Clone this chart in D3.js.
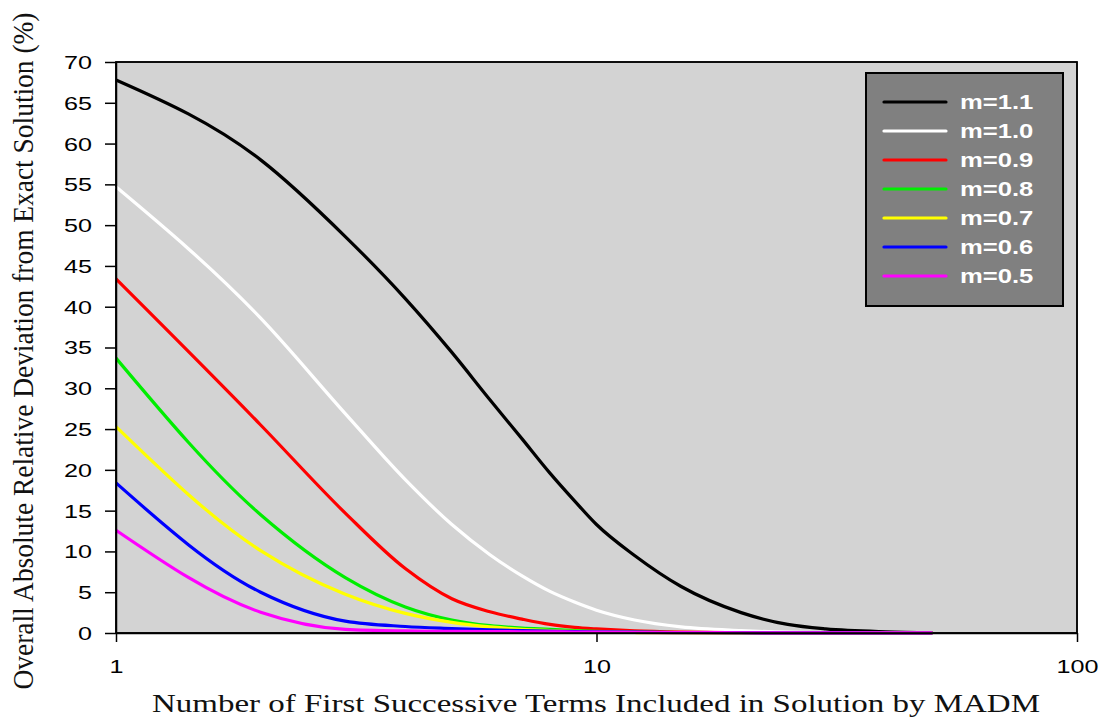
<!DOCTYPE html>
<html><head><meta charset="utf-8">
<script src="https://cdn.jsdelivr.net/npm/d3@7"></script>
<style>html,body{margin:0;padding:0;background:#fff}</style>
</head><body>
<svg id="c" width="1102" height="721"></svg>
<script>
const nTerms = [1,2,3,4,5,6,7,8,9,10,12,15,20,25,30,40,50];
const m11 = [67.8,58.0,48.6,41.0,34.4,28.6,23.8,19.6,16.2,13.3,9.5,5.7,2.5,1.05,0.5,0.15,0.05];
const m10 = [54.7,38.6,26.9,18.8,13.3,9.6,7.0,5.1,3.8,2.8,1.6,0.75,0.3,0.1,0.05,0,0];
const m09 = [43.4,25.5,14.7,7.9,4.2,2.6,1.7,1.05,0.7,0.5,0.25,0.1,0.03,0,0,0,0];
const m08 = [33.7,14.5,6.8,3.2,1.6,0.9,0.6,0.45,0.3,0.2,0.1,0.05,0,0,0,0,0];
const m07 = [25.3,10.1,4.75,2.4,1.3,0.75,0.45,0.3,0.2,0.12,0.06,0.03,0,0,0,0,0];
const m06 = [18.4,5.0,1.45,0.8,0.55,0.38,0.28,0.22,0.18,0.15,0.1,0.06,0.03,0.02,0.01,0,0];
const m05 = [12.6,2.55,0.45,0.25,0.2,0.17,0.15,0.13,0.12,0.1,0.08,0.05,0.03,0.02,0.02,0.02,0.02];
const seriesNames = ["m=1.1","m=1.0","m=0.9","m=0.8","m=0.7","m=0.6","m=0.5"];
const seriesValues = [m11,m10,m09,m08,m07,m06,m05];
const seriesColors = ["#000000","#ffffff","#ff0000","#00ee00","#ffff00","#0000ff","#ff00ff"];
const yTicks = [0,5,10,15,20,25,30,35,40,45,50,55,60,65,70];
const xTicks = [1,10,100];
const xTitle = "Number of First Successive Terms Included in Solution by MADM";
const yTitle = "Overall Absolute Relative Deviation from Exact Solution (%)";

const svg = d3.select("#c");
const L=116,R=1077,T=62,B=633;
const x = d3.scaleLog().domain([1,100]).range([L,R]);
const y = d3.scaleLinear().domain([0,70]).range([B,T]);

svg.append("rect").attr("x",L).attr("y",T).attr("width",R-L).attr("height",B-T)
  .attr("fill","#d3d3d3").attr("stroke","#000").attr("stroke-width",1.5);

const line = d3.line().x(d=>x(d.n)).y(d=>y(d.v)).curve(d3.curveMonotoneX);
seriesValues.forEach((vals,i)=>{
  const pts = nTerms.map((n,j)=>({n:n,v:vals[j]}));
  svg.append("path").datum(pts).attr("d",line).attr("fill","none")
    .attr("stroke",seriesColors[i]).attr("stroke-width",3.2).attr("stroke-linejoin","round");
});

const fontSans = "'Liberation Sans', Arial, sans-serif";
const fontSerif = "'Liberation Serif', 'Times New Roman', serif";

const gy = svg.append("g").attr("transform",`translate(${L},0)`)
  .call(d3.axisLeft(y).tickValues(yTicks).tickSize(11).tickSizeOuter(0).tickFormat(d3.format("d")));
gy.select(".domain").attr("stroke","#000").attr("stroke-width",1.5);
gy.selectAll(".tick line").attr("stroke","#000").attr("stroke-width",1.5);
gy.selectAll(".tick text").attr("x",0).attr("dy","0.36em")
  .attr("transform","translate(-24,0) scale(1.4,1)")
  .style("font-family",fontSans).style("font-size","18px").attr("fill","#000");

const gx = svg.append("g").attr("transform",`translate(0,${B})`)
  .call(d3.axisBottom(x).tickValues(xTicks).tickSize(9).tickSizeOuter(0).tickFormat(d3.format("d")));
gx.select(".domain").attr("stroke","#000").attr("stroke-width",1.5);
gx.selectAll(".tick line").attr("stroke","#000").attr("stroke-width",1.5);
gx.selectAll(".tick text").attr("y",0).attr("dy",0)
  .attr("transform","translate(0,40) scale(1.4,1)")
  .style("font-family",fontSans).style("font-size","18px").attr("fill","#000");

svg.append("rect").attr("x",L).attr("y",T).attr("width",R-L).attr("height",B-T)
  .attr("fill","none").attr("stroke","#000").attr("stroke-width",1.5);

svg.append("text").attr("x",152).attr("y",712).attr("textLength",888).attr("lengthAdjust","spacingAndGlyphs")
  .style("font-family",fontSerif).style("font-size","26px").attr("fill","#111").text(xTitle);

svg.append("text").attr("transform","translate(33,351) scale(1.2,1) rotate(-90)")
  .attr("text-anchor","middle").attr("textLength",677).attr("lengthAdjust","spacingAndGlyphs")
  .style("font-family",fontSerif).style("font-size","25px").attr("fill","#111").text(yTitle);

const lg = svg.append("g");
lg.append("rect").attr("x",866).attr("y",73).attr("width",197).attr("height",233)
  .attr("fill","#808080").attr("stroke","#000").attr("stroke-width",2);
seriesNames.forEach((name,i)=>{
  const yy = 102 + i*29;
  lg.append("line").attr("x1",884).attr("x2",946).attr("y1",yy).attr("y2",yy)
    .attr("stroke",seriesColors[i]).attr("stroke-width",3.2).attr("stroke-linecap","round");
  lg.append("text").attr("transform",`translate(960,${yy+7}) scale(1.25,1)`)
    .style("font-family",fontSans).style("font-size","20.5px").style("font-weight","bold")
    .attr("fill","#fff").text(name);
});
</script>
</body></html>
